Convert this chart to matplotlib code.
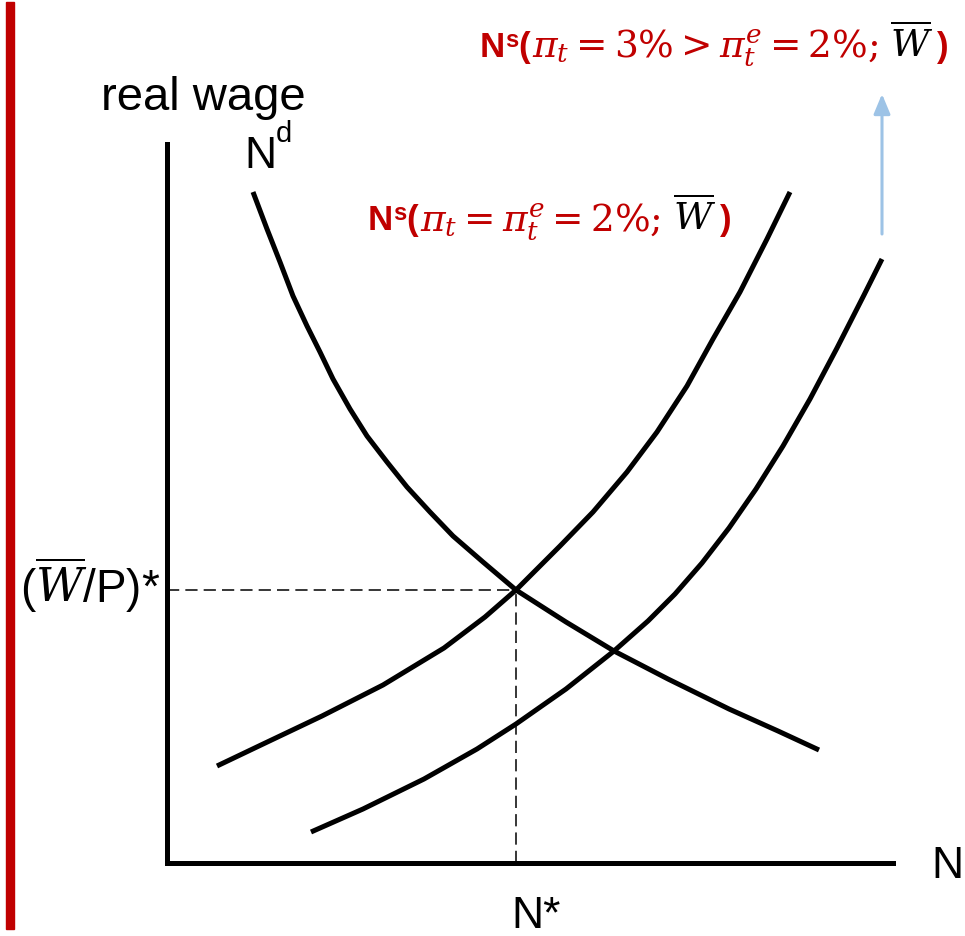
import matplotlib
matplotlib.use("Agg")
import matplotlib.pyplot as plt
from matplotlib.patches import Rectangle

plt.rcParams['font.family'] = ['Liberation Sans', 'DejaVu Sans']
plt.rcParams['mathtext.fontset'] = 'dejavuserif'

W_PX, H_PX = 965, 937
RED = '#C00000'
BLUE = '#9DC3E6'

# Curves (N, real wage), axis units = pixels from the origin
nd_N = [86, 100, 113, 126, 140, 153, 166, 183, 200, 220, 240, 263, 286, 316,
        349, 399, 447, 501, 562, 611, 652]
nd_W = [671, 634, 601, 567, 537, 511, 484, 454, 427, 401, 376, 351, 327, 301,
        273, 241, 212, 184, 154, 132, 113]

ns1_N = [50, 94, 155, 216, 277, 318, 349, 393, 426, 460, 490, 520, 546, 573, 600, 623]
ns1_W = [97, 118, 147, 178, 215, 246, 273, 317, 351, 391, 431, 477, 524, 571, 624, 671]

ns2_N = [144, 196, 257, 310, 349, 399, 447, 481, 508, 535, 562, 589, 616, 643, 670, 697, 715]
ns2_W = [31, 54, 84, 114, 139, 174, 212, 242, 269, 300, 335, 374, 417, 464, 515, 568, 604]

# equilibrium
eq_N = 349
eq_W = 273

# shift arrow
arrow_N = 715
arrow_from = 629
arrow_to = 769

fig = plt.figure(figsize=(W_PX / 100, H_PX / 100), dpi=100)
ax = fig.add_axes([167 / W_PX, (H_PX - 864) / H_PX, (893 - 167) / W_PX, (864 - 145) / H_PX])
ax.set_xlim(0, 726)
ax.set_ylim(0, 719)
ax.set_xticks([])
ax.set_yticks([])
for s in ['top', 'right']:
    ax.spines[s].set_visible(False)
for s in ['left', 'bottom']:
    ax.spines[s].set_linewidth(3.6)
    ax.spines[s].set_capstyle('projecting')

for xs, ys in [(nd_N, nd_W), (ns1_N, ns1_W), (ns2_N, ns2_W)]:
    ax.plot(xs, ys, color='black', lw=3.6, solid_capstyle='butt', solid_joinstyle='round')

ax.plot([0, eq_N], [eq_W, eq_W], color='black', lw=1.1, dashes=(8, 4))
ax.plot([eq_N, eq_N], [0, eq_W], color='black', lw=1.1, dashes=(8, 4))

ax.annotate('', xy=(arrow_N, arrow_to), xytext=(arrow_N, arrow_from),
            annotation_clip=False,
            arrowprops=dict(arrowstyle='-|>,head_length=1.2,head_width=0.5',
                            color=BLUE, lw=2.2, shrinkA=0, shrinkB=0))

# red bar at left edge
fig.patches.append(Rectangle((6 / W_PX, 1 - 930 / H_PX), 8 / W_PX, 927 / H_PX,
                             transform=fig.transFigure, color=RED, zorder=5))


def ftext(x, y, s, **kw):
    return fig.text(x / W_PX, 1 - y / H_PX, s, va='baseline', **kw)


ftext(101, 110, 'real wage', fontsize=34)
ftext(244, 168, 'N', fontsize=32)
ftext(276, 142, 'd', fontsize=21)
ftext(931, 878, 'N', fontsize=32)
ftext(511, 928, 'N*', fontsize=32)
ftext(20, 603, r'($\overline{W}$/P)*', fontsize=33)

renderer = fig.canvas.get_renderer()


def label_pieces(x, y, pieces):
    # pieces: (text, gap before in px, raise in px, style)
    for s, gap, dy, kw in pieces:
        t = ftext(x + gap, y - dy, s, **kw)
        bb = t.get_window_extent(renderer)
        x = bb.x1


bold = dict(fontsize=25, color=RED, weight='bold')
sup = dict(fontsize=17, color=RED, weight='bold')
mred = dict(fontsize=27, color=RED)
mblk = dict(fontsize=27, color='black')

label_pieces(368, 230, [
    ('N', 0, 0, bold), ('s', 0, 10, sup), ('(', 0, 0, bold),
    (r'$\pi_t = \pi_t^e = 2\%;$', 2, 0, mred),
    (r'$\overline{W}$', 12, 0, mblk), (')', 4, 0, bold),
])
label_pieces(480, 57, [
    ('N', 0, 0, bold), ('s', 0, 10, sup), ('(', 0, 0, bold),
    (r'$\pi_t = 3\% > \pi_t^e = 2\%;$', 2, 0, mred),
    (r'$\overline{W}$', 12, 0, mblk), (')', 4, 0, bold),
])

fig.savefig('out.png', dpi=100)
